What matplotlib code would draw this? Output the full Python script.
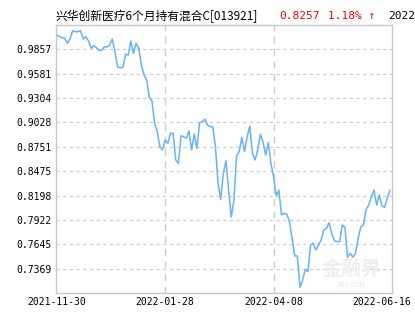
import matplotlib
matplotlib.use("Agg")
import matplotlib.pyplot as plt
import numpy as np

# 单位净值 (每个交易日)
nav = [1.0020, 1.0003, 0.9989, 0.9983, 0.9926, 0.9975, 1.0069, 1.0057, 1.0057, 1.0069,
       0.9975, 1.0001, 0.9952, 0.9869, 0.9899, 0.9876, 0.9846, 0.9846, 0.9887, 0.9884,
       0.9907, 0.9975, 0.9830, 0.9654, 0.9649, 0.9649, 0.9801, 0.9793, 0.9952, 0.9812,
       0.9926, 0.9869, 0.9680, 0.9566, 0.9509, 0.9309, 0.9271, 0.9018, 0.8923, 0.8753,
       0.8715, 0.8829, 0.8791, 0.8905, 0.8905, 0.8602, 0.8564, 0.8877, 0.8866, 0.8848,
       0.8931, 0.8715, 0.8897, 0.8734, 0.9025, 0.9036, 0.9064, 0.8999, 0.8980, 0.8980,
       0.8753, 0.8337, 0.8156, 0.8451, 0.8594, 0.8261, 0.7952, 0.8148, 0.8647, 0.8696,
       0.8859, 0.8696, 0.8866, 0.8987, 0.8678, 0.8602, 0.8715, 0.8893, 0.8809, 0.8658,
       0.8798, 0.8564, 0.8412, 0.8193, 0.8261, 0.7978, 0.7997, 0.7986, 0.7902, 0.7713,
       0.7513, 0.7513, 0.7157, 0.7240, 0.7362, 0.7334, 0.7637, 0.7657, 0.7581, 0.7637,
       0.7694, 0.7808, 0.7827, 0.7890, 0.7770, 0.7686, 0.7675, 0.7675, 0.7864, 0.7838,
       0.7498, 0.7543, 0.7498, 0.7543, 0.7713, 0.7845, 0.7864, 0.8042, 0.8091, 0.8185,
       0.8261, 0.8091, 0.8205, 0.8080, 0.8065, 0.8167, 0.8257]

y_ticks = [0.7369, 0.7645, 0.7922, 0.8198, 0.8475, 0.8751, 0.9028, 0.9304, 0.9581, 0.9857]
y_min, y_max = 0.70926, 1.01334

x_tick_idx = [0, 41, 82, 126]
x_tick_labels = ["2021-11-30", "2022-01-28", "2022-04-08", "2022-06-16"]

fund_name = "兴华创新医疗6个月持有混合C[013921]"
last_nav = "0.8257"
change = "1.18% ↑"
last_date = "2022-06-16"

plt.rcParams['font.family'] = ['Noto Sans CJK SC', 'DejaVu Sans']

fig = plt.figure(figsize=(4.15, 3.30), dpi=100)
ax = fig.add_axes([56 / 415, 1 - 293 / 330, 336 / 415, 268 / 330])

x = np.arange(len(nav))
ax.plot(x, nav, color="#66b2ff", lw=1.1)

ax.set_xlim(-0.3, len(nav) - 1 + 0.8)
ax.set_ylim(y_min, y_max)

# 网格
for v in y_ticks:
    ax.axhline(v, color="#cccccc", lw=0.8, ls=(0, (3, 3)), zorder=0)
for i in x_tick_idx[1:-1]:
    ax.axvline(i, color="#cccccc", lw=1.0, ls=(0, (5, 4)), zorder=0)

ax.set_yticks(y_ticks)
ax.set_yticklabels([f"{v:.4f}" for v in y_ticks], family="DejaVu Sans Mono", fontsize=7)
ax.set_xticks(x_tick_idx[:-1])
ax.set_xticklabels(x_tick_labels[:-1], family="DejaVu Sans Mono", fontsize=7)
ax.tick_params(length=0, pad=3)

# 最后一个日期标签在右侧内缩
ax.text(1.0 + 19 / 336, -9 / 268, x_tick_labels[-1], transform=ax.transAxes,
        ha="right", va="center", family="DejaVu Sans Mono", fontsize=7)

for s in ax.spines.values():
    s.set_color("#c8c8c8")
    s.set_linewidth(1.0)

# 水印
ax.text(0.88, 0.09, "金融界", transform=ax.transAxes, ha="center", va="center",
        fontsize=14, color="#eeeeee", fontweight="bold", zorder=0)
ax.text(0.88, 0.03, "JRJ.COM", transform=ax.transAxes, ha="center", va="center",
        fontsize=5, color="#f4dede", zorder=0)

# 标题
ty = 1 - 16 / 330
fig.text(55 / 415, ty, fund_name, ha="left", va="center", fontsize=8.5, color="black")
fig.text(279 / 415, ty, last_nav, ha="left", va="center", fontsize=8,
         family="DejaVu Sans Mono", color="red")
fig.text(328 / 415, ty, change, ha="left", va="center", fontsize=8,
         family=["DejaVu Sans Mono", "DejaVu Sans"], color="red")
fig.text(388 / 415, ty, last_date, ha="left", va="center", fontsize=8,
         family="DejaVu Sans Mono", color="black")

fig.savefig("out.png", dpi=100)
